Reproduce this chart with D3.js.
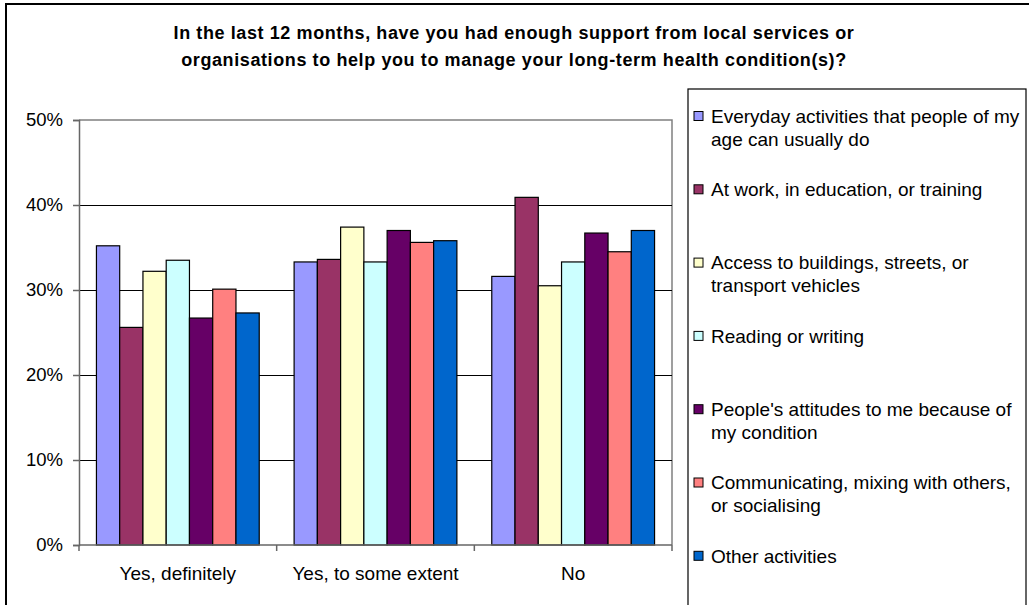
<!DOCTYPE html>
<html>
<head>
<meta charset="utf-8">
<script src="https://cdn.jsdelivr.net/npm/d3@7"></script>
<style>
  html, body { margin: 0; padding: 0; background: #fff; }
  svg { display: block; font-family: "Liberation Sans", Arial, sans-serif; }
</style>
</head>
<body>
<svg id="chart" width="1029" height="605"></svg>
<script>
// Survey answers (x categories)
const categories = ["Yes, definitely", "Yes, to some extent", "No"];

// Activity groups, each drawn as one bar per answer
const seriesNames = [
  "Everyday activities that people of my age can usually do",
  "At work, in education, or training",
  "Access to buildings, streets, or transport vehicles",
  "Reading or writing",
  "People's attitudes to me because of my condition",
  "Communicating, mixing with others, or socialising",
  "Other activities"
];

// Legend text, wrapped as it appears in the key
const legendLines = [
  ["Everyday activities that people of my", "age can usually do"],
  ["At work, in education, or training"],
  ["Access to buildings, streets, or", "transport vehicles"],
  ["Reading or writing"],
  ["People's attitudes to me because of", "my condition"],
  ["Communicating, mixing with others,", "or socialising"],
  ["Other activities"]
];

// Percentages per activity group, in category order
const everyday      = [35.2, 33.3, 31.6];
const atWork        = [25.6, 33.6, 40.9];
const access        = [32.2, 37.4, 30.5];
const reading       = [33.5, 33.3, 33.3];
const attitudes     = [26.7, 37.0, 36.7];
const communicating = [30.1, 35.6, 34.5];
const other         = [27.3, 35.8, 37.0];
const seriesValues = [everyday, atWork, access, reading, attitudes, communicating, other];

const colors = ["#9999FF", "#993366", "#FFFFCC", "#CCFFFF", "#660066", "#FF8080", "#0066CC"];

const yTicks = [0, 10, 20, 30, 40, 50];

const titleLines = [
  "In the last 12 months, have you had enough support from local services or",
  "organisations to help you to manage your long-term health condition(s)?"
];

const svg = d3.select("#chart");

// Outer chart frame
svg.append("rect")
  .attr("x", 6).attr("y", 4)
  .attr("width", 1060).attr("height", 640)
  .attr("fill", "#fff").attr("stroke", "#000").attr("stroke-width", 2);

// Title
svg.append("g").selectAll("text")
  .data(titleLines)
  .join("text")
  .attr("x", 514)
  .attr("y", (d, i) => 33 + i * 27)
  .attr("dy", "0.36em")
  .attr("text-anchor", "middle")
  .attr("font-size", 18)
  .attr("font-weight", "bold")
  .attr("letter-spacing", 0.6)
  .attr("fill", "#000")
  .text(d => d);

// Plot area
const plot = { left: 79, right: 672, top: 120, bottom: 545 };

const x0 = d3.scaleBand()
  .domain(categories)
  .range([plot.left, plot.right])
  .padding(0);

const x1 = d3.scaleBand()
  .domain(d3.range(seriesNames.length))
  .range([0, x0.bandwidth()])
  .paddingInner(0)
  .paddingOuter(0.75);

const y = d3.scaleLinear()
  .domain([0, 50])
  .range([plot.bottom, plot.top]);

// Plot frame (top and right edges)
svg.append("path")
  .attr("d", `M${plot.left},${plot.top}H${plot.right}V${plot.bottom}`)
  .attr("fill", "none").attr("stroke", "#808080").attr("stroke-width", 1.5);

// Horizontal gridlines
svg.append("g").selectAll("line")
  .data(yTicks.filter(t => t > 0 && t < 50))
  .join("line")
  .attr("x1", plot.left).attr("x2", plot.right)
  .attr("y1", d => Math.round(y(d)) + 0.5).attr("y2", d => Math.round(y(d)) + 0.5)
  .attr("stroke", "#000").attr("stroke-width", 1);

// Bars
const groups = svg.append("g").selectAll("g")
  .data(categories)
  .join("g")
  .attr("transform", d => `translate(${x0(d)},0)`);

groups.selectAll("rect")
  .data((c, ci) => seriesValues.map((vals, si) => ({ si, v: vals[ci] })))
  .join("rect")
  .attr("x", d => x1(d.si))
  .attr("y", d => y(d.v))
  .attr("width", x1.bandwidth())
  .attr("height", d => y(0) - y(d.v))
  .attr("fill", d => colors[d.si])
  .attr("stroke", "#000")
  .attr("stroke-width", 1.2);

// Y axis
const yAxis = svg.append("g")
  .attr("transform", `translate(${plot.left},0)`)
  .call(d3.axisLeft(y).tickValues(yTicks).tickFormat(d => d + "%").tickSize(6).tickPadding(10));
yAxis.select(".domain").attr("stroke", "#666").attr("stroke-width", 1.5);
yAxis.selectAll(".tick line").attr("stroke", "#666").attr("stroke-width", 1.5);
yAxis.selectAll(".tick text")
  .attr("font-size", 18.5)
  .attr("font-family", "Liberation Sans, Arial, sans-serif")
  .attr("fill", "#000");

// X axis with ticks at category boundaries
const xAxis = svg.append("g")
  .attr("transform", `translate(0,${plot.bottom})`);
xAxis.append("line")
  .attr("x1", plot.left).attr("x2", plot.right)
  .attr("stroke", "#666").attr("stroke-width", 1.5);
xAxis.selectAll("line.tick")
  .data(categories.map(c => x0(c)).concat([plot.right]))
  .join("line")
  .attr("class", "tick")
  .attr("x1", d => d).attr("x2", d => d)
  .attr("y1", 0).attr("y2", 6)
  .attr("stroke", "#666").attr("stroke-width", 1.5);
xAxis.selectAll("text")
  .data(categories)
  .join("text")
  .attr("x", d => x0(d) + x0.bandwidth() / 2)
  .attr("y", 28)
  .attr("dy", "0.36em")
  .attr("text-anchor", "middle")
  .attr("font-size", 19)
  .attr("fill", "#000")
  .text(d => d);

// Legend
const legend = svg.append("g");
legend.append("rect")
  .attr("x", 688).attr("y", 89)
  .attr("width", 338).attr("height", 560)
  .attr("fill", "#fff").attr("stroke", "#000").attr("stroke-width", 1.2);

const items = legend.selectAll("g.item")
  .data(seriesNames)
  .join("g")
  .attr("class", "item")
  .attr("transform", (d, i) => `translate(0,${116 + i * 73.3})`);

items.append("rect")
  .attr("x", 694).attr("y", -4.5)
  .attr("width", 9).attr("height", 9)
  .attr("fill", (d, i) => colors[i])
  .attr("stroke", "#000").attr("stroke-width", 1);

items.selectAll("text")
  .data((d, i) => legendLines[i])
  .join("text")
  .attr("x", 711)
  .attr("y", (d, j) => j * 23)
  .attr("dy", "0.36em")
  .attr("font-size", 19)
  .attr("fill", "#000")
  .text(d => d);
</script>
</body>
</html>
